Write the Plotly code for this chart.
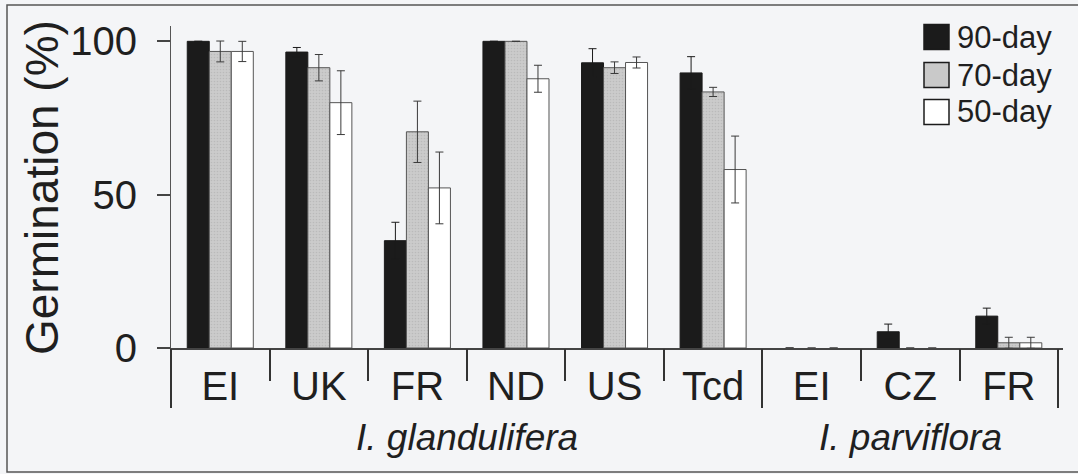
import plotly.graph_objects as go

# Germination (%) of seeds after three chilling periods, by population
categories = ["EI", "UK", "FR", "ND", "US", "Tcd", "EI", "CZ", "FR"]
species = ["<i>I. glandulifera</i>", "<i>I. parviflora</i>"]
species_span = [(0, 5), (6, 8)]
series_names = ["90-day", "70-day", "50-day"]

germ_90 = [100, 96.5, 35, 100, 93, 89.7, 0, 5.3, 10.4]
err_90 = [None, 1.5, 6, None, 4.6, 5.3, None, 2.5, 2.6]
germ_70 = [96.7, 91.4, 70.5, 100, 91.4, 83.5, 0, 0, 1.7]
err_70 = [3.4, 4.3, 10, None, 1.9, 1.5, None, None, 1.8]
germ_50 = [96.7, 80, 52.2, 87.8, 93.1, 58.2, 0, 0, 1.7]
err_50 = [3.3, 10.4, 11.7, 4.4, 1.8, 10.9, None, None, 1.8]

y_ticks = [0, 50, 100]

FONT = "Liberation Sans, Arial, sans-serif"
BG = "#f4f5f7"
INK = "#1f1f1f"

W, H = 1078, 474
ML, MR, MT, MB = 171, 15, 26, 126
PW, PH = W - ML - MR, H - MT - MB


def px_x(p):
    return (p - ML) / PW


def px_y(p):
    return (H - MB - p) / PH


x_pos = list(range(len(categories)))
separators = [i - 0.5 for i in range(len(categories) + 1)]
group_edges = [species_span[0][0] - 0.5, species_span[1][0] - 0.5, species_span[1][1] + 0.5]
inner_seps = [s for s in separators if s not in group_edges]

fills = ["#1b1b1b", "#c9c9c9", "#ffffff"]
edges = ["#1b1b1b", "#555555", "#555555"]
patterns = [None,
            dict(shape=".", fgcolor="#a9a9a9", bgcolor="#cbcbcb", size=3, solidity=0.25),
            None]
err_colors = ["#1b1b1b", "#3a3a3a", "#3a3a3a"]

fig = go.Figure()
for name, vals, errs, fc, lc, pat, ec in zip(series_names, [germ_90, germ_70, germ_50],
                                             [err_90, err_70, err_50], fills, edges,
                                             patterns, err_colors):
    marker = dict(color=fc, line=dict(color=lc, width=1),
                  opacity=[1 if v > 0 else 0 for v in vals])
    if pat:
        marker["pattern"] = pat
    fig.add_trace(go.Bar(
        x=x_pos, y=vals, name=name, marker=marker, showlegend=False,
        error_y=dict(type="data", array=errs, visible=True,
                     color=ec, thickness=1, width=4),
    ))

# invisible helper trace so the separator-tick axis is drawn
fig.add_trace(go.Scatter(x=[separators[0], separators[-1]], y=[0, 0], xaxis="x2",
                         mode="lines", line=dict(width=0), hoverinfo="skip",
                         showlegend=False))

fig.update_layout(
    width=W, height=H,
    margin=dict(l=ML, r=MR, t=MT, b=MB),
    paper_bgcolor=BG, plot_bgcolor=BG,
    barmode="group", bargap=0.33, bargroupgap=0,
    font=dict(family=FONT, color=INK),
    xaxis=dict(
        range=[-0.5, 8.55], tickmode="array", tickvals=x_pos, ticktext=categories,
        ticks="", showline=True, linecolor="#444444", linewidth=1.5,
        showgrid=False, zeroline=False, tickfont=dict(size=40, color=INK),
        ticklabelstandoff=2, layer="above traces",
    ),
    xaxis2=dict(
        overlaying="x", anchor="y", matches="x", side="bottom",
        tickmode="array", tickvals=group_edges, ticks="outside", ticklen=59,
        tickwidth=2, tickcolor="#333333", showticklabels=False,
        showgrid=False, zeroline=False, showline=False,
        minor=dict(tickmode="array", tickvals=inner_seps, ticks="outside",
                   ticklen=32, tickwidth=2, tickcolor="#333333", showgrid=False),
    ),
    yaxis=dict(
        range=[0, 105], tickmode="array", tickvals=y_ticks,
        ticks="outside", ticklen=13, tickwidth=1.5, tickcolor="#444444",
        showline=True, linecolor="#555555", linewidth=1,
        showgrid=False, zeroline=False, tickfont=dict(size=40, color=INK),
        ticklabelstandoff=12,
    ),
)

# y-axis title
fig.add_annotation(x=px_x(42), y=px_y(188), xref="paper", yref="paper",
                   text="Germination (%)", textangle=-90, showarrow=False,
                   xanchor="center", yanchor="middle",
                   font=dict(size=46, color=INK, family=FONT))

# species labels beneath the population groups
for label, (a, b) in zip(species, species_span):
    fig.add_annotation(x=(a + b) / 2, xref="x", y=px_y(437), yref="paper",
                       text=label, showarrow=False, yanchor="middle",
                       font=dict(size=37, color=INK, family=FONT))

# legend: filled squares with series names
legend_rows = [37, 75, 112]
for name, fc, cy in zip(series_names, fills, legend_rows):
    fig.add_shape(type="rect", xref="paper", yref="paper",
                  x0=px_x(924), x1=px_x(949), y0=px_y(cy + 12.5), y1=px_y(cy - 12.5),
                  fillcolor=fc, line=dict(color="#1b1b1b", width=1.5))
    fig.add_annotation(x=px_x(955), y=px_y(cy), xref="paper", yref="paper",
                       text=name, showarrow=False, xanchor="left", yanchor="middle",
                       font=dict(size=31, color=INK, family=FONT))

# outer frame
fig.add_shape(type="rect", xref="paper", yref="paper",
              x0=px_x(7), x1=px_x(W + 10), y0=px_y(472), y1=px_y(5),
              line=dict(color="#555555", width=1.5), fillcolor="rgba(0,0,0,0)")

fig.write_html("out.html")
